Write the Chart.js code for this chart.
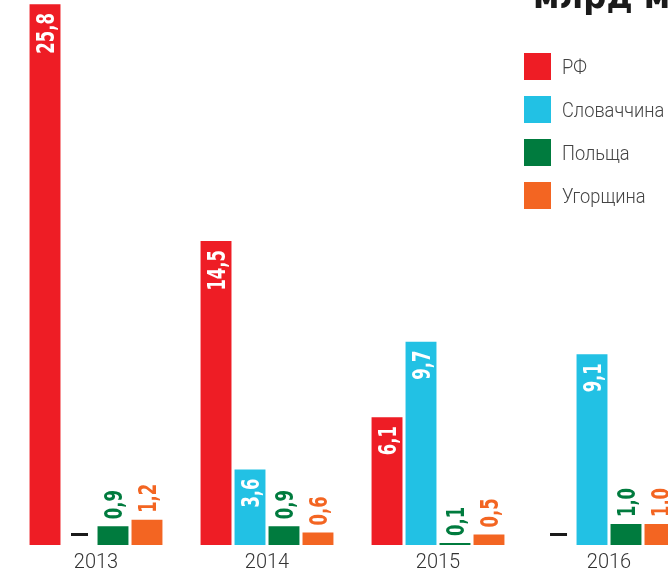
<!DOCTYPE html>
<html>
<head>
<meta charset="utf-8">
<script src="https://cdn.jsdelivr.net/npm/chart.js@4.4.1/dist/chart.umd.min.js"></script>
<style>
  html, body { margin: 0; padding: 0; background: #fff; overflow: hidden; }
  #wrap { position: relative; width: 668px; height: 572px; overflow: hidden; }
  #myChart { position: absolute; left: 0; top: 0; }
  #unit {
    position: absolute; left: 533px; top: -25px; line-height: 36px;
    font: bold 36px 'DejaVu Sans Condensed', sans-serif;
    color: #1a1a1a; white-space: nowrap;
  }
  #legend { position: absolute; left: 524px; top: 53px; }
  .leg-item { display: flex; align-items: center; height: 27px; margin-bottom: 16px; }
  .leg-box { width: 27px; height: 27px; margin-right: 11px; flex: none; }
  .leg-text {
    font: 300 21px Roboto, sans-serif; color: #444; white-space: nowrap;
    display: inline-block; transform: scaleX(0.87); transform-origin: left center;
  }
</style>
</head>
<body>
<div id="wrap">
  <canvas id="myChart" width="700" height="572"></canvas>
  <div id="unit">млрд м³</div>
  <div id="legend"></div>
</div>
<script>
/* ===== DATA ===== */
const years = ['2013', '2014', '2015', '2016'];
const rf = [25.8, 14.5, 6.1, 0];
const slovakia = [0, 3.6, 9.7, 9.1];
const poland = [0.9, 0.9, 0.1, 1.0];
const hungary = [1.2, 0.6, 0.5, 1.0];

const seriesNames = ['РФ', 'Словаччина', 'Польща', 'Угорщина'];
const seriesColors = ['#ee1d25', '#22c1e4', '#007b3e', '#f36522'];
const seriesValues = [rf, slovakia, poland, hungary];

const labelFont = "bold 25px 'DejaVu Sans Condensed', sans-serif";

/* ===== HTML LEGEND ===== */
const legend = document.getElementById('legend');
seriesNames.forEach((name, i) => {
    const item = document.createElement('div');
    item.className = 'leg-item';
    item.innerHTML = '<div class="leg-box" style="background:' + seriesColors[i] + '"></div>' +
        '<span class="leg-text">' + name + '</span>';
    legend.appendChild(item);
});

/* ===== VALUE LABELS ===== */
const valueLabels = {
    id: 'valueLabels',
    afterDatasetsDraw(chart) {
        const ctx = chart.ctx;
        ctx.save();
        ctx.font = labelFont;
        chart.data.datasets.forEach((ds, di) => {
            const meta = chart.getDatasetMeta(di);
            meta.data.forEach((bar, i) => {
                const v = ds.data[i];
                if (v === 0) {
                    // zero value shown as a dash
                    ctx.fillStyle = '#1a1a1a';
                    ctx.fillRect(bar.x - 8, bar.base - 12, 17, 3);
                    return;
                }
                const txt = v.toFixed(1).replace('.', ',');
                const squeeze = 0.73;
                const tw = ctx.measureText(txt).width * squeeze;
                const h = bar.base - bar.y;
                const capH = 18;
                ctx.save();
                ctx.textBaseline = 'alphabetic';
                if (h > tw + 20) {
                    ctx.translate(bar.x, bar.y + 9);
                    ctx.rotate(-Math.PI / 2);
                    ctx.scale(squeeze, 1);
                    ctx.textAlign = 'right';
                    ctx.fillStyle = '#fff';
                } else {
                    ctx.translate(bar.x, bar.y - 7);
                    ctx.rotate(-Math.PI / 2);
                    ctx.scale(squeeze, 1);
                    ctx.textAlign = 'left';
                    ctx.fillStyle = ds.backgroundColor;
                }
                ctx.fillText(txt, 0, capH / 2);
                ctx.restore();
            });
        });
        ctx.restore();
    }
};

/* ===== CHART ===== */
const myChart = document.getElementById('myChart').getContext('2d');

const barChart = new Chart(myChart, {
    type: 'bar',
    data: {
        labels: years,
        datasets: seriesNames.map((name, i) => ({
            label: name,
            data: seriesValues[i],
            backgroundColor: seriesColors[i],
            categoryPercentage: 0.795,
            barPercentage: 0.91,
        })),
    },
    options: {
        responsive: false,
        animation: false,
        layout: {
            padding: { left: 10.5, right: 5.5, top: 0, bottom: 0 }
        },
        scales: {
            x: {
                grid: { display: false, drawTicks: false },
                border: { display: false },
                ticks: {
                    padding: 6,
                    color: '#333',
                    font: { family: 'Roboto, sans-serif', weight: '300', size: 20 }
                },
                afterFit(scale) { scale.height = 27; }
            },
            y: {
                display: false,
                min: 0,
                max: 26,
            }
        },
        plugins: {
            legend: { display: false },
            tooltip: { enabled: false },
        }
    },
    plugins: [valueLabels]
});
</script>
</body>
</html>
